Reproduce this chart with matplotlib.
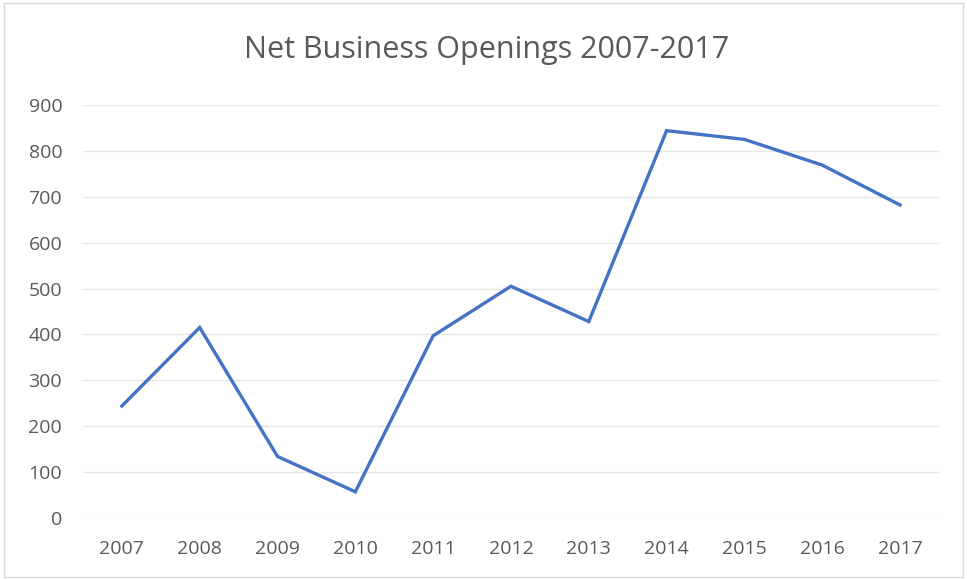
import matplotlib.pyplot as plt
from matplotlib.patches import Rectangle

# values
years = ['2007', '2008', '2009', '2010', '2011', '2012', '2013', '2014', '2015', '2016', '2017']
openings = [244, 415, 134, 57, 397, 505, 428, 844, 825, 769, 682]
y_ticks = [0, 100, 200, 300, 400, 500, 600, 700, 800, 900]

plt.rcParams['font.family'] = ['Open Sans', 'DejaVu Sans']

fig = plt.figure(figsize=(9.67, 5.8), dpi=100)
ax = fig.add_axes([0.0858, 0.107, 0.8852, 0.712])

x = list(range(len(years)))
ax.plot(x, openings, color='#4472C4', linewidth=2.4, solid_joinstyle='miter')

ax.set_xlim(-0.5, len(years) - 0.5)
ax.set_ylim(0, 900)
ax.set_yticks(y_ticks)
ax.set_xticks(x)
ax.set_xticklabels(years)

ax.grid(axis='y', color='#e6e6e6', linewidth=1)
ax.set_axisbelow(True)
for s in ax.spines.values():
    s.set_visible(False)
ax.tick_params(length=0, labelsize=14, colors='#595959')
ax.tick_params(axis='x', pad=16)
ax.tick_params(axis='y', pad=15)

fig.text(0.503, 0.913, 'Net Business Openings 2007-2017', ha='center', va='center',
         fontsize=22, color='#595959')

# light frame round the chart area
fig.patches.append(Rectangle((0.004, 0.006), 0.992, 0.988, transform=fig.transFigure,
                             fill=False, edgecolor='#d9d9d9', linewidth=1))

fig.savefig('out.png', dpi=100)
